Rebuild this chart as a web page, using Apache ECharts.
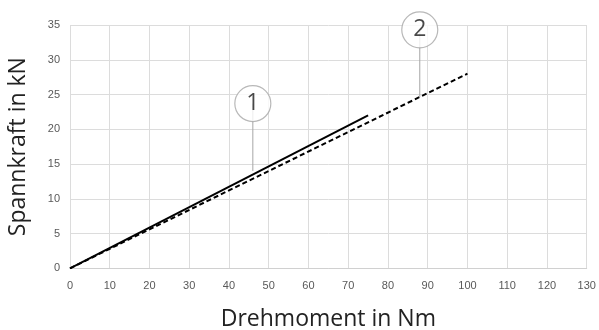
<!DOCTYPE html>
<html><head><meta charset="utf-8">
<script src="https://cdn.jsdelivr.net/npm/echarts@6/dist/echarts.min.js"></script>
<style>html,body{margin:0;padding:0;background:#fff}#c{width:599px;height:330px}</style>
</head><body><div id="c"></div>
<script>
// Data
const xTicks = [0,10,20,30,40,50,60,70,80,90,100,110,120,130];
const yTicks = [0,5,10,15,20,25,30,35];
const series1Torque = [0, 75];
const series1Force = [0, 22];
const series2Torque = [0, 100];
const series2Force = [0, 28];
// annotation markers: label, x, circle y, leader end y
const annoLabels = ['1', '2'];
const annoX = [46, 88];
const annoCircleY = [23.7, 34.3];
const annoEndY = [14.0, 24.6];

const chart = echarts.init(document.getElementById('c'));
const FONT = '"Open Sans", sans-serif';
const pairs = (xs, ys) => xs.map((x, i) => [x, ys[i]]);
const series = [
  { type: 'line', data: pairs(series1Torque, series1Force), showSymbol: false, lineStyle: { color: '#000', width: 2 }, z: 3 },
  { type: 'line', data: pairs(series2Torque, series2Force), showSymbol: false, lineStyle: { color: '#000', width: 2, type: [5, 3] }, z: 3 }
];
annoLabels.forEach((lab, i) => {
  series.push({ type: 'line', data: [[annoX[i], annoCircleY[i]], [annoX[i], annoEndY[i]]], showSymbol: false, lineStyle: { color: '#a6a6a6', width: 1 }, z: 4 });
  series.push({ type: 'scatter', data: [[annoX[i], annoCircleY[i]]], symbol: 'circle', symbolSize: 36,
    itemStyle: { color: '#fff', borderColor: '#a6a6a6', borderWidth: 1.2 },
    label: { show: true, position: 'inside', formatter: lab, color: '#1a1a1a', fontSize: 23, fontFamily: FONT }, z: 5 });
});
chart.setOption({
  animation: false,
  grid: { left: 70, right: 12.3, top: 25, bottom: 61.7, outerBoundsMode: 'none', containLabel: false },
  xAxis: {
    type: 'value', min: xTicks[0], max: xTicks[xTicks.length - 1], interval: 10,
    name: 'Drehmoment in Nm', nameLocation: 'middle', nameGap: 40,
    nameTextStyle: { fontSize: 23, color: '#222', fontFamily: FONT },
    axisLine: { show: true, lineStyle: { color: '#d0d0d0' } }, axisTick: { show: false },
    axisLabel: { color: '#595959', fontSize: 11, margin: 12, fontFamily: 'Liberation Sans, Arial, sans-serif' },
    splitLine: { show: true, lineStyle: { color: '#dcdcdc', width: 1 } }
  },
  yAxis: {
    type: 'value', min: yTicks[0], max: yTicks[yTicks.length - 1], interval: 5,
    name: 'Spannkraft in kN', nameLocation: 'middle', nameGap: 40, nameRotate: 90,
    nameTextStyle: { fontSize: 23, color: '#222', fontFamily: FONT },
    axisLine: { show: false }, axisTick: { show: false },
    axisLabel: { color: '#595959', fontSize: 11, margin: 10, fontFamily: 'Liberation Sans, Arial, sans-serif' },
    splitLine: { show: true, lineStyle: { color: '#dcdcdc', width: 1 } }
  },
  series
});
</script></body></html>
